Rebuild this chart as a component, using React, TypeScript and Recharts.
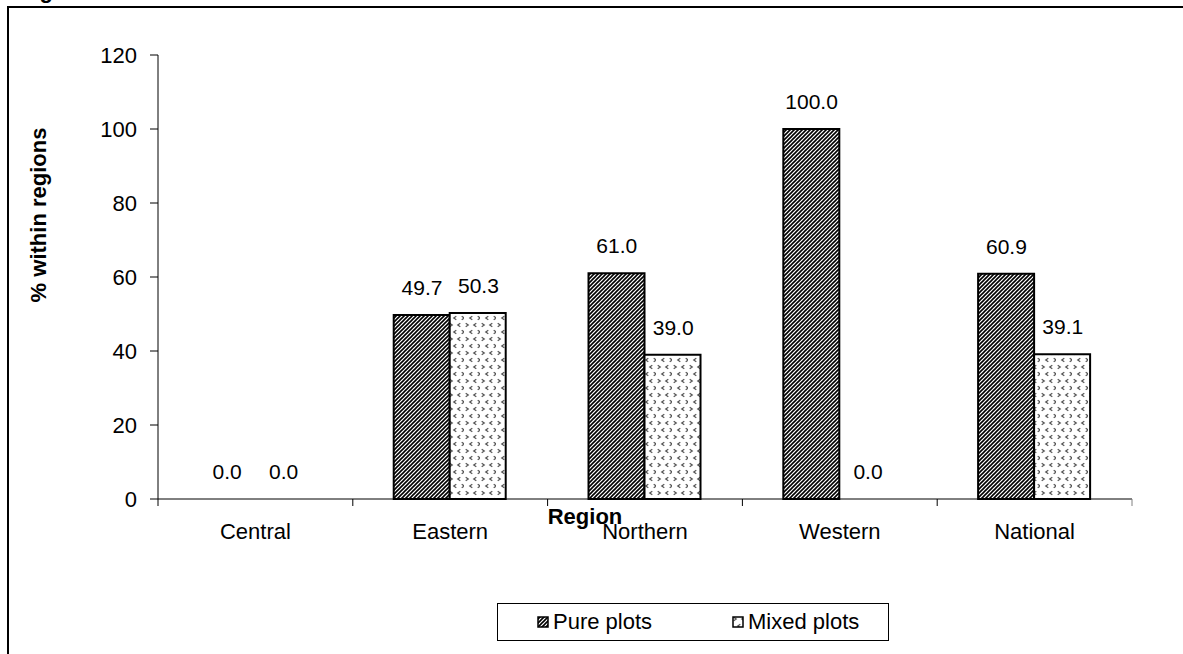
import React from 'react';
import { ComposedChart, Bar, Line, XAxis, YAxis, LabelList } from 'recharts';

const regions = ['Central', 'Eastern', 'Northern', 'Western', 'National'];
const purePlots = [0.0, 49.7, 61.0, 100.0, 60.9];
const mixedPlots = [0.0, 50.3, 39.0, 0.0, 39.1];
const yTicks = [0, 20, 40, 60, 80, 100, 120];

const data = regions.map((region, i) => ({
  region,
  pure: purePlots[i],
  mixed: mixedPlots[i],
}));

const FONT = '"Liberation Sans", Arial, sans-serif';
const HALF_BAR = 28.2;

const RegionTick = (props: any) => {
  const { x, y, payload, index } = props;
  const half = payload && payload.offset ? payload.offset : 97.4;
  return (
    <g>
      <line x1={x - half} y1={y} x2={x - half} y2={y + 7} stroke="#000" />
      {index === regions.length - 1 && (
        <line x1={x + half} y1={y} x2={x + half} y2={y + 7} stroke="#808080" />
      )}
      <text x={x} y={y + 32} textAnchor="middle" dominantBaseline="central" fontSize={22} fill="#000" fontFamily={FONT}>
        {payload.value}
      </text>
    </g>
  );
};

// value labels sit over the bar, so they are shifted half a bar left / right
const valueLabel = (shift: number) => (props: any) => {
  const px = props.viewBox && props.viewBox.x != null ? props.viewBox.x : props.x;
  const py = props.viewBox && props.viewBox.y != null ? props.viewBox.y : props.y;
  return (
    <text x={px + shift} y={py - 20} textAnchor="middle" fontSize={21} fill="#000" fontFamily={FONT}>
      {Number(props.value).toFixed(1)}
    </text>
  );
};

const Chevron = ({ x, y, dir }: { x: number; y: number; dir: 1 | -1 }) => (
  <path d={`M${x - 1.3 * dir},${y - 1.8} L${x + 1.3 * dir},${y} L${x - 1.3 * dir},${y + 1.8}`} stroke="#555" strokeWidth={1.2} fill="none" />
);

export default function App() {
  return (
    <div style={{ position: 'absolute', left: 0, top: 0, width: 1183, height: 654, overflow: 'hidden', background: '#fff', fontFamily: FONT }}>
      <svg width={200} height={20} style={{ position: 'absolute', left: 0, top: 0 }}>
        <text x={20} y={-2} fontSize={22} fontWeight="bold" fontFamily={FONT} fill="#000">Figure</text>
      </svg>
      <div style={{ position: 'absolute', left: 7, top: 6, width: 1300, height: 800, borderTop: '2px solid #000', borderLeft: '2px solid #000' }} />
      <div style={{ position: 'absolute', left: 0, top: 0 }}>
        <ComposedChart
          width={1183}
          height={654}
          data={data}
          margin={{ top: 55, right: 51, left: 0, bottom: 95 }}
          barCategoryGap="21%"
          barGap={0}
        >
          <defs>
            <pattern id="purePattern" width="4" height="4" patternUnits="userSpaceOnUse">
              <rect width="4" height="4" fill="#fff" />
              <path d="M-1,1 L1,-1 M0,4 L4,0 M3,5 L5,3" stroke="#000" strokeWidth={1.6} />
            </pattern>
            <pattern id="mixedPattern" width="16" height="14" patternUnits="userSpaceOnUse">
              <rect width="16" height="14" fill="#fff" />
              <Chevron x={3} y={3} dir={1} />
              <Chevron x={11} y={3} dir={-1} />
              <Chevron x={7} y={10} dir={-1} />
              <Chevron x={15} y={10} dir={1} />
            </pattern>
          </defs>
          <XAxis
            dataKey="region"
            tick={<RegionTick />}
            tickLine={false}
            tickSize={0}
            tickMargin={0}
            height={60}
            interval={0}
            axisLine={{ stroke: '#000' }}
            label={{ value: 'Region', position: 'insideTop', offset: 9, dx: -60, fontSize: 22, fontWeight: 'bold', fill: '#000', fontFamily: FONT }}
          />
          <XAxis xAxisId="top" dataKey="region" orientation="top" height={0} tick={false} tickLine={false} axisLine={{ stroke: '#808080' }} />
          <YAxis
            domain={[0, 120]}
            ticks={yTicks}
            width={158}
            tickSize={8}
            tickMargin={13}
            tick={{ fontSize: 22, fill: '#000', fontFamily: FONT }}
            tickLine={{ stroke: '#000' }}
            axisLine={{ stroke: '#000' }}
            label={{ value: '% within regions', angle: -90, position: 'center', dx: -41, dy: -62, fontSize: 22, fontWeight: 'bold', fill: '#000', fontFamily: FONT }}
          />
          <YAxis yAxisId="right" orientation="right" width={0} domain={[0, 120]} tick={false} tickLine={false} axisLine={{ stroke: '#808080' }} />
          <Bar dataKey="pure" name="Pure plots" fill="url(#purePattern)" stroke="#000" strokeWidth={2} isAnimationActive={false} />
          <Bar dataKey="mixed" name="Mixed plots" fill="url(#mixedPattern)" stroke="#000" strokeWidth={2} isAnimationActive={false} />
          <Line dataKey="pure" stroke="none" dot={false} activeDot={false} legendType="none" isAnimationActive={false}>
            <LabelList dataKey="pure" content={valueLabel(-HALF_BAR)} />
          </Line>
          <Line dataKey="mixed" stroke="none" dot={false} activeDot={false} legendType="none" isAnimationActive={false}>
            <LabelList dataKey="mixed" content={valueLabel(HALF_BAR)} />
          </Line>
        </ComposedChart>
      </div>
      <div style={{ position: 'absolute', left: 497, top: 603, width: 390, height: 36, border: '1px solid #000', background: '#fff', fontSize: 22, color: '#000' }}>
        <svg width={12} height={12} style={{ position: 'absolute', left: 39, top: 12 }}>
          <rect x={1} y={1} width={10} height={10} fill="url(#purePattern)" stroke="#000" strokeWidth={1.5} />
        </svg>
        <span style={{ position: 'absolute', left: 55, top: 5, lineHeight: '26px' }}>Pure plots</span>
        <svg width={12} height={12} style={{ position: 'absolute', left: 234, top: 12 }}>
          <rect x={1} y={1} width={10} height={10} fill="url(#mixedPattern)" stroke="#000" strokeWidth={1.5} />
        </svg>
        <span style={{ position: 'absolute', left: 250, top: 5, lineHeight: '26px' }}>Mixed plots</span>
      </div>
    </div>
  );
}
